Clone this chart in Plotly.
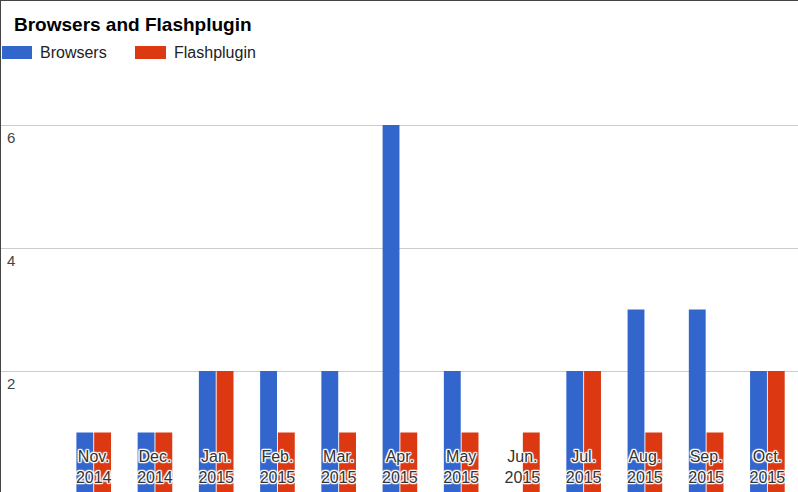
import plotly.graph_objects as go

# Monthly counts per product
months = ["Nov.<br>2014", "Dec.<br>2014", "Jan.<br>2015", "Feb.<br>2015", "Mar.<br>2015",
          "Apr.<br>2015", "May<br>2015", "Jun.<br>2015", "Jul.<br>2015", "Aug.<br>2015",
          "Sep.<br>2015", "Oct.<br>2015"]
browsers = [1, 1, 2, 2, 2, 6, 2, 0, 2, 3, 3, 2]
flashplugin = [1, 1, 2, 1, 1, 1, 1, 1, 2, 1, 1, 2]
y_ticks = [2, 4, 6]

W, H = 798, 492
BLUE, RED = "#3366cc", "#dc3912"
FONT = "Liberation Sans, Arial, sans-serif"


def px_x(p):
    return p / W


def px_y(p):
    return 1 - p / H


fig = go.Figure()
fig.add_bar(x=months, y=browsers, name="Browsers", marker=dict(color=BLUE, line=dict(width=0)),
            showlegend=False)
fig.add_bar(x=months, y=flashplugin, name="Flashplugin", marker=dict(color=RED, line=dict(width=0)),
            showlegend=False)

# thin white outline around the month labels so they stay readable over the bars
halo = ", ".join(f"{dx}px {dy}px 1px #fff" for dx in (-1, 0, 1) for dy in (-1, 0, 1)
                 if (dx, dy) != (0, 0)) + ", 0 0 2px #fff"

shapes = [
    # frame edges
    dict(type="line", xref="paper", yref="paper", x0=0, x1=0, y0=0, y1=1,
         line=dict(color="#444", width=2)),
    dict(type="line", xref="paper", yref="paper", x0=0, x1=1, y0=1, y1=1,
         line=dict(color="#444", width=2)),
    # legend swatches
    dict(type="rect", xref="paper", yref="paper", x0=px_x(2), x1=px_x(32),
         y0=px_y(59), y1=px_y(46), fillcolor=BLUE, line=dict(width=0)),
    dict(type="rect", xref="paper", yref="paper", x0=px_x(135), x1=px_x(166),
         y0=px_y(59), y1=px_y(46), fillcolor=RED, line=dict(width=0)),
]

annotations = [
    dict(text="<b>Browsers and Flashplugin</b>", xref="paper", yref="paper",
         x=px_x(12), y=px_y(24), xanchor="left", yanchor="middle", showarrow=False,
         font=dict(family=FONT, size=19, color="#000")),
    dict(text="Browsers", xref="paper", yref="paper", x=px_x(38), y=px_y(52),
         xanchor="left", yanchor="middle", showarrow=False,
         font=dict(family=FONT, size=16, color="#222")),
    dict(text="Flashplugin", xref="paper", yref="paper", x=px_x(172), y=px_y(52),
         xanchor="left", yanchor="middle", showarrow=False,
         font=dict(family=FONT, size=16, color="#222")),
]

fig.update_layout(
    width=W, height=H,
    margin=dict(l=0, r=0, t=0, b=0),
    paper_bgcolor="#fff", plot_bgcolor="#fff",
    barmode="group", bargap=0.42, bargroupgap=0.05,
    shapes=shapes, annotations=annotations,
    xaxis=dict(
        type="category", range=[-1.53, 11.5], showgrid=False, zeroline=False,
        showline=False, ticks="", ticklabelposition="inside", ticklabelstandoff=3,
        tickfont=dict(family=FONT, size=16, color="#333", shadow=halo),
        fixedrange=True,
    ),
    yaxis=dict(
        range=[2 / 61.5, 494 / 61.5], tickvals=y_ticks, showgrid=True, gridcolor="#cccccc",
        gridwidth=1, zeroline=False, showline=False, ticks="",
        ticklabelposition="inside", ticklabelshift=13, ticklabelstandoff=4,
        tickfont=dict(family=FONT, size=15, color="#444"),
        fixedrange=True,
    ),
)

fig.write_html("out.html")
